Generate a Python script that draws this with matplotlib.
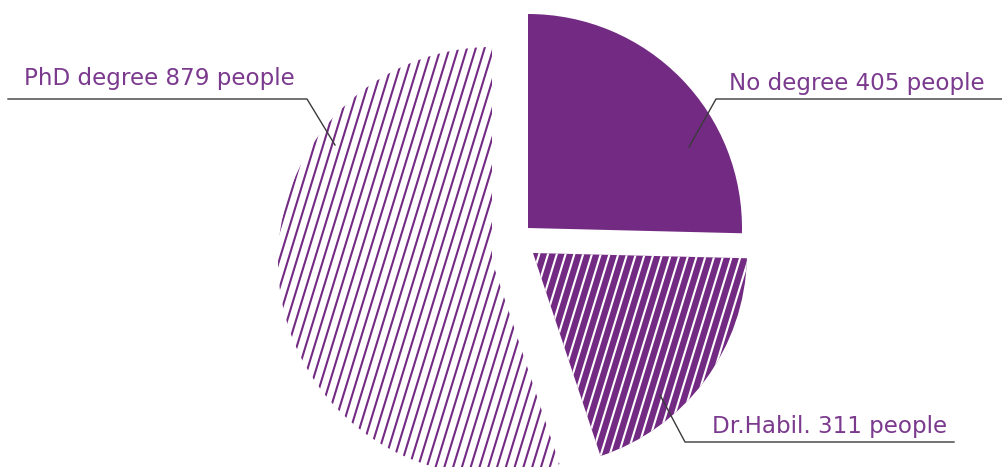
import numpy as np
import matplotlib
matplotlib.use("Agg")
import matplotlib.pyplot as plt

# Staff by academic degree
categories = ["No degree", "Dr.Habil.", "PhD degree"]
people = [405, 311, 879]

PURPLE = "#732A83"
TEXT_COLOR = "#7B3A8E"
LEADER = "#3a3a3a"

W, H = 1002, 467

fig = plt.figure(figsize=(W / 100, H / 100), dpi=100)
ax = fig.add_axes([0, 0, 1, 1])

wedges, _ = ax.pie(people, startangle=90, counterclock=False, radius=214,
                   wedgeprops=dict(linewidth=0))

def Y(y):
    return H - y

# each slice pulled apart from the others
centers = [(528, Y(228)), (533, Y(253)), (492, Y(261))]
faces = [PURPLE, PURPLE, "white"]
stripes = [None, "white", PURPLE]
for w, c, fc, sc in zip(wedges, centers, faces, stripes):
    w.set_center(c)
    w.set_facecolor(fc)
    w.set_edgecolor("none")
    if sc is None:
        continue
    th = np.deg2rad(73)
    d = np.array([np.cos(th), np.sin(th)])
    n = np.array([-np.sin(th), np.cos(th)])
    r = w.r
    for k in np.arange(-r * 1.05, r * 1.05, 8.4):
        p = np.array(c) + n * k
        a, b = p - d * r * 1.2, p + d * r * 1.2
        ln, = ax.plot([a[0], b[0]], [a[1], b[1]], color=sc, lw=1.5,
                      solid_capstyle="butt")
        ln.set_clip_path(w)

# labels with leader lines
label_pos = [(729, 90), (712, 433), (24, 85)]
leaders = [
    [(1002, 99), (716, 99), (689, 147)],
    [(660, 395), (685, 442), (954, 442)],
    [(8, 99), (307, 99), (335, 145)],
]
for cat, val, (tx, ty), pts in zip(categories, people, label_pos, leaders):
    ax.text(tx, Y(ty), f"{cat} {val} people", color=TEXT_COLOR,
            fontsize=16.6, family="DejaVu Sans", ha="left", va="baseline")
    xs, ys = zip(*pts)
    ax.plot(xs, [Y(v) for v in ys], color=LEADER, lw=1.0)

ax.set_xlim(0, W)
ax.set_ylim(0, H)
ax.set_aspect("equal")
ax.axis("off")
fig.savefig("out.png", dpi=100)
